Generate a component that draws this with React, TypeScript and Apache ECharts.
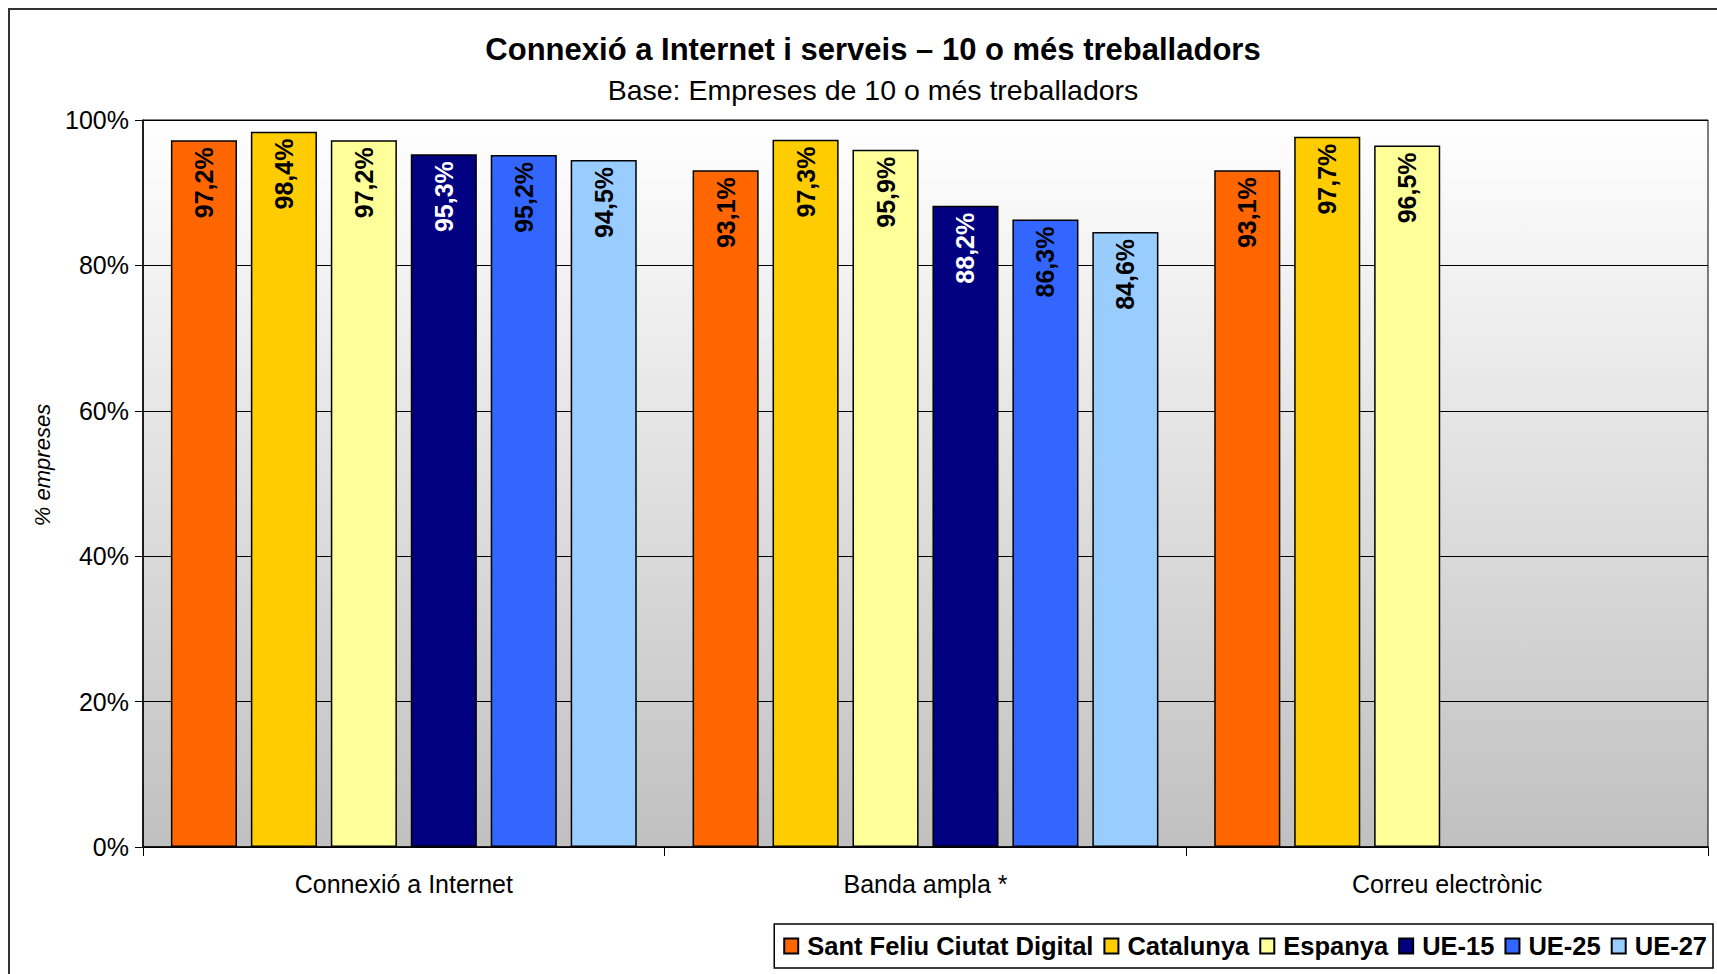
import React, { useEffect, useRef } from "react";
import * as echarts from "echarts";

const categories = ["Connexió a Internet", "Banda ampla *", "Correu electrònic"];
const seriesNames = ["Sant Feliu Ciutat Digital", "Catalunya", "Espanya", "UE-15", "UE-25", "UE-27"];
const santFeliu = [97.2, 93.1, 93.1];
const catalunya = [98.4, 97.3, 97.7];
const espanya = [97.2, 95.9, 96.5];
const ue15 = [95.3, 88.2, null];
const ue25 = [95.2, 86.3, null];
const ue27 = [94.5, 84.6, null];
const seriesColors = ["#FF6600", "#FFCC00", "#FFFF99", "#000080", "#3366FF", "#99CCFF"];
const labelColors = ["#000000", "#000000", "#000000", "#FFFFFF", "#000000", "#000000"];
const yTicks = [0, 20, 40, 60, 80, 100];

const FONT = "'Liberation Sans', Arial, sans-serif";

export default function App() {
  const ref = useRef<HTMLDivElement>(null);
  useEffect(() => {
    if (!ref.current) return;
    const chart = echarts.init(ref.current, null, { renderer: "svg" });
    const allData = [santFeliu, catalunya, espanya, ue15, ue25, ue27];
    chart.setOption({
      animation: false,
      backgroundColor: "#ffffff",
      textStyle: { fontFamily: FONT },
      graphic: [
        {
          type: "rect",
          shape: { x: 9, y: 9, width: 1720, height: 980 },
          style: { fill: "none", stroke: "#333333", lineWidth: 2 },
          z: 100,
        },
        {
          type: "text",
          x: 873,
          y: 49,
          style: {
            text: "Connexió a Internet i serveis – 10 o més treballadors",
            font: `bold 31px ${FONT}`,
            fill: "#000",
            textAlign: "center",
            textVerticalAlign: "middle",
          },
        },
        {
          type: "text",
          x: 873,
          y: 90,
          style: {
            text: "Base: Empreses de 10 o més treballadors",
            font: `28.5px ${FONT}`,
            fill: "#000",
            textAlign: "center",
            textVerticalAlign: "middle",
          },
        },
        {
          type: "text",
          x: 42,
          y: 465,
          rotation: Math.PI / 2,
          style: {
            text: "% empreses",
            font: `italic 22px ${FONT}`,
            fill: "#000",
            textAlign: "center",
            textVerticalAlign: "middle",
          },
        },
      ],
      grid: {
        left: 143,
        right: 9,
        top: 120,
        bottom: 127,
        show: true,
        borderColor: "#000",
        borderWidth: 1,
        backgroundColor: new echarts.graphic.LinearGradient(0, 0, 0, 1, [
          { offset: 0, color: "#ffffff" },
          { offset: 1, color: "#c0c0c0" },
        ]),
      },
      legend: {
        right: 4,
        bottom: 6,
        data: seriesNames,
        icon: "rect",
        itemWidth: 14,
        itemHeight: 15,
        itemGap: 10,
        padding: [9, 6, 9, 9],
        borderColor: "#000",
        borderWidth: 1.5,
        backgroundColor: "#fff",
        textStyle: { fontSize: 25.5, fontWeight: "bold", color: "#000", fontFamily: FONT, padding: [0, 0, 0, 4] },
      },
      xAxis: {
        type: "category",
        data: categories,
        axisLine: { lineStyle: { color: "#000", width: 1.5 } },
        axisTick: { show: true, interval: 0, length: 9, lineStyle: { color: "#000" } },
        axisLabel: { fontSize: 25, color: "#000", margin: 24, fontFamily: FONT },
      },
      yAxis: {
        type: "value",
        min: 0,
        max: 100,
        interval: 20,
        axisLine: { show: true, lineStyle: { color: "#000", width: 1.5 } },
        axisTick: { show: true, length: 8, lineStyle: { color: "#000" } },
        axisLabel: {
          fontSize: 25,
          color: "#000",
          margin: 14,
          fontFamily: FONT,
          formatter: (v: number) => (yTicks.includes(v) ? `${v}%` : ""),
        },
        splitLine: { show: true, lineStyle: { color: "#000", width: 1.2 } },
      },
      series: seriesNames.map((name, i) => ({
        name,
        type: "bar",
        data: allData[i],
        barGap: "21%",
        barCategoryGap: "10.7%",
        itemStyle: { color: seriesColors[i], borderColor: "#000", borderWidth: 1.5 },
        label: {
          show: true,
          position: "insideTop",
          rotate: 90,
          align: "right",
          verticalAlign: "middle",
          distance: 7,
          fontSize: 25,
          fontWeight: "bold",
          color: labelColors[i],
          fontFamily: FONT,
          formatter: (p: any) => `${Number(p.value).toFixed(1).replace(".", ",")}%`,
        },
      })),
    });
    return () => chart.dispose();
  }, []);
  return (
    <div
      ref={ref}
      style={{ position: "absolute", left: 0, top: 0, width: 1717, height: 974 }}
    />
  );
}
